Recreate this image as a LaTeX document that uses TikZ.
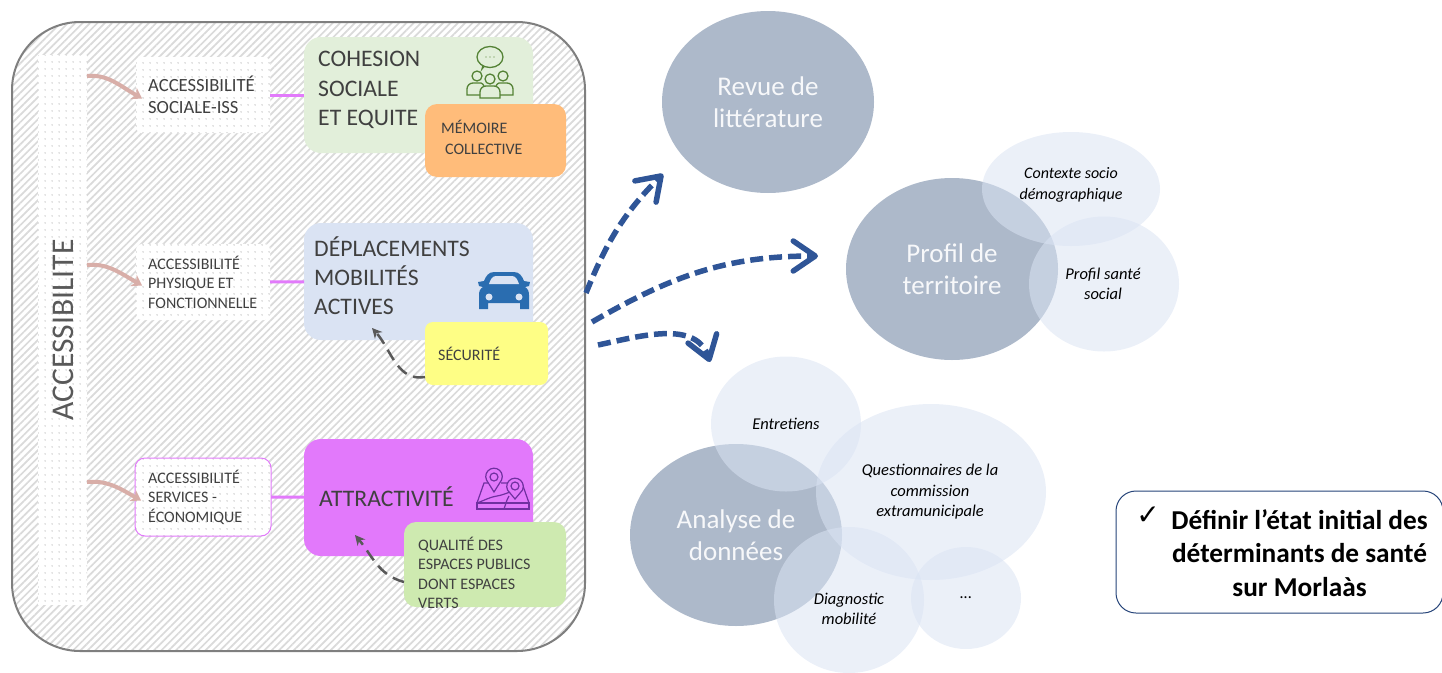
\documentclass[tikz,border=0pt]{standalone}
\usepackage{fontspec}
\setmainfont{Carlito}
\newfontfamily\checkfont{DejaVu Sans}
\usetikzlibrary{shapes.geometric,patterns.meta,arrows.meta}

\definecolor{framegray}{HTML}{7F7F7F}
\definecolor{hatchgray}{HTML}{DADADA}
\definecolor{dotgray}{HTML}{8C8C8C}
\definecolor{textgray}{HTML}{404040}
\definecolor{rosearrow}{HTML}{D8AEA8}
\definecolor{pinkline}{HTML}{E27AFB}
\definecolor{cohesiongreen}{HTML}{E2EFDA}
\definecolor{memoireorange}{HTML}{FFBC7A}
\definecolor{mobilityblue}{HTML}{DAE3F3}
\definecolor{securityyellow}{HTML}{FEFE85}
\definecolor{attractpink}{HTML}{E279FB}
\definecolor{qualitygreen}{HTML}{CEEAB0}
\definecolor{navyarrow}{HTML}{2F5597}
\definecolor{bigellipse}{HTML}{ADB9CA}
\definecolor{paleellipse}{HTML}{DAE3F3}
\definecolor{peoplegreen}{HTML}{548235}
\definecolor{carblue}{HTML}{2A6DB0}
\definecolor{mapviolet}{HTML}{7030A0}

\tikzset{
  dotbox/.style={rounded corners=6pt, inner sep=0pt, outer sep=0pt, preaction={fill=white},
    pattern={Dots[distance=6.5pt,radius=0.6pt]}, pattern color=dotgray},
  themebox/.style={rounded corners=17pt, inner sep=0pt, outer sep=0pt},
  smalltxt/.style={anchor=west, align=left, text=textgray, inner sep=0pt, font=\fontsize{16}{19.5}\selectfont},
  bigtxt/.style={anchor=west, align=left, text=textgray, inner sep=0pt, font=\fontsize{23.7}{29.3}\selectfont},
  bigball/.style={ellipse, fill=bigellipse, inner sep=0pt, outer sep=0pt, align=center,
    text=white!90!bigellipse, font=\fontsize{27}{32}\selectfont},
  paleball/.style={ellipse, fill=paleellipse, fill opacity=0.55, inner sep=0pt, outer sep=0pt},
  paletxt/.style={align=center, inner sep=0pt, font=\fontsize{16.5}{20.5}\selectfont\itshape},
  rosearr/.style={->,>={Stealth[length=10pt,width=13pt]}, line width=4pt, color=rosearrow, shorten >=-7pt},
  pinkconn/.style={line width=3pt, color=pinkline},
  grayarr/.style={->,>={Stealth[length=10pt,width=10pt]}, line width=2.5pt, color=black!65, dash pattern=on 12pt off 7pt},
  navyarr/.style={->,>={Straight Barb[length=22pt,width=30pt,round]}, line width=5.5pt, color=navyarrow, dash pattern=on 13pt off 6pt},
}

\begin{document}
\begin{tikzpicture}[x=1pt,y=1pt]
\useasboundingbox (0,0) rectangle (1442,-672);

% Frame with the hatching and the dotted band
\node (frame) [draw=framegray, line width=2pt, rounded corners=68pt, minimum width=573pt, minimum height=629pt,
  preaction={fill=white}, pattern={Lines[angle=45,distance=5.2pt,line width=1.7pt]}, pattern color=hatchgray] at (298.5,-336.5) {};
\node (band) [dotbox, rounded corners=0pt, minimum width=49pt, minimum height=550pt] at (62.5,-330) {};
\node (bandtxt) [rotate=90, text=black!65, inner sep=0pt, font=\fontsize{31.6}{31.6}\selectfont] at (63,-330) {ACCESSIBILITE};

% Accessibility boxes
\node (boxsocial) [dotbox, minimum width=134pt, minimum height=76pt] at (203,-95) {};
\node (boxphys) [dotbox, minimum width=134pt, minimum height=76pt] at (203,-282) {};
\node (boxserv) [dotbox, draw=pinkline, line width=1pt, rounded corners=10pt, minimum width=136pt, minimum height=78pt] at (203,-497) {};
\node (txtsocial) [smalltxt, font=\fontsize{18.6}{22}\selectfont] at (148,-95) {ACCESSIBILITÉ\\SOCIALE-ISS};
\node (txtphys) [smalltxt] at (148,-282) {ACCESSIBILITÉ\\PHYSIQUE ET\\FONCTIONNELLE};
\node (txtserv) [smalltxt] at (148,-497) {ACCESSIBILITÉ\\SERVICES -\\ÉCONOMIQUE};

% Theme boxes
\node (cohesion) [themebox, fill=cohesiongreen, minimum width=229pt, minimum height=116pt] at (418.5,-95) {};
\node (mobility) [themebox, fill=mobilityblue, minimum width=229pt, minimum height=117pt] at (418.5,-281.5) {};
\node (attract) [themebox, fill=attractpink, minimum width=229pt, minimum height=117pt] at (418.5,-497.5) {};
\node (txtcohesion) [bigtxt] at (318,-90) {COHESION\\SOCIALE\\ET EQUITE};
\node (txtmobility) [bigtxt] at (314,-275.5) {DÉPLACEMENTS\\MOBILITÉS\\ACTIVES};
\node (txtattract) [bigtxt] at (319,-497) {ATTRACTIVITÉ};

\draw [pinkconn] (boxsocial) -- (cohesion);
\draw [pinkconn] (boxphys) -- (mobility);
\draw [pinkconn] (boxserv) -- (attract);

% Small boxes on the themes
\node (memoire) [themebox, rounded corners=12pt, fill=memoireorange, minimum width=141pt, minimum height=73pt] at (495.5,-140.5) {};
\node (securite) [themebox, rounded corners=8pt, fill=securityyellow, minimum width=123pt, minimum height=63pt] at (486.5,-353.5) {};
\node (qualite) [themebox, rounded corners=12pt, fill=qualitygreen, minimum width=162pt, minimum height=85pt] at (485,-564.5) {};
\node (txtmemoire) [smalltxt] at (441,-127) {MÉMOIRE};
\node (txtcollective) [smalltxt] at (445,-149) {COLLECTIVE};
\node (txtsecurite) [smalltxt] at (438,-354) {SÉCURITÉ};
\node (txtqualite) [smalltxt] at (418,-573) {QUALITÉ DES\\ESPACES PUBLICS\\DONT ESPACES\\VERTS};

% Arrows leaving the band
\coordinate (rosea) at (87,-76);
\coordinate (roseb) at (87,-265);
\coordinate (rosec) at (87,-482);
\draw [rosearr] (rosea) to [out=5,in=150] (boxsocial.west);
\draw [rosearr] (roseb) to [out=5,in=150] (boxphys.west);
\draw [rosearr] (rosec) to [out=5,in=150] (boxserv.west);

% Dashed arrows towards the themes
\coordinate (secstart) at (425,-377);
\coordinate (secend) at (372,-328);
\coordinate (qualstart) at (404,-582);
\coordinate (qualend) at (355,-535);
\draw [grayarr] (secstart) to [out=190,in=-48] (secend);
\draw [grayarr] (qualstart) to [out=165,in=-50] (qualend);

% Speech bubble and people
\begin{scope} [shift={(490,-72)}, color=peoplegreen, line width=1.3pt]
\draw (-6,5.5) -- (-8,3) -- (-7,6.5);
\draw (0,15) ellipse (13 and 10.5);
\foreach \dotx in {-4,0,4} { \fill (\dotx,15) circle (0.6pt); }
\draw (-13,-4) circle (5pt) (13,-4) circle (5pt) (0,-7) circle (5pt);
\draw (-10,-23) -- (-23,-23) -- (-23,-17) to [out=90,in=180] (-17,-11) -- (-9,-11) to [out=0,in=135] (-6,-14);
\draw (10,-23) -- (23,-23) -- (23,-17) to [out=90,in=0] (17,-11) -- (9,-11) to [out=180,in=45] (6,-14);
\draw (-10,-26) -- (10,-26) -- (10,-20) to [out=90,in=0] (4,-14) -- (-4,-14) to [out=180,in=90] (-10,-20) -- cycle;
\end{scope}

% Car
\begin{scope} [shift={(504,-290)}]
\fill [color=carblue] (-26,8) -- (-20,9) to [out=70,in=180] (-10,18) -- (10,18) to [out=0,in=110] (20,9) -- (26,8) -- (25,4) -- (21,3)
  to [out=-30,in=90] (25,-5) -- (25,-19) -- (16,-19) -- (16,-13) -- (-16,-13) -- (-16,-19) -- (-25,-19) -- (-25,-5) to [out=90,in=210] (-21,3) -- (-25,4) -- cycle;
\fill [color=mobilityblue] (-15,6) to [out=70,in=180] (-8,14) -- (8,14) to [out=0,in=110] (15,6) -- cycle;
\fill [color=mobilityblue] (-15,-7) circle (3.5pt) (15,-7) circle (3.5pt);
\end{scope}

% Map with the two pins
\begin{scope} [color=mapviolet, line width=1.2pt]
\draw (477,-509) -- (529,-509) -- (529,-503) -- (477,-503) -- cycle;
\draw (477,-503) -- (484,-483) -- (488,-483);
\draw (501,-483) -- (508,-483) (522,-483) -- (529,-503);
\draw (477,-503) to [out=20,in=190] (497,-496) to [out=10,in=200] (510,-492);
\draw (504,-509) to [out=70,in=240] (509,-496);
\draw [fill=attractpink] (494,-492) -- (486.5,-480) arc (205:-25:8.3) -- cycle;
\draw (494,-477) circle (4pt);
\draw [fill=attractpink] (515,-499) -- (507.5,-490) arc (205:-25:8.3) -- cycle;
\draw (515,-486) circle (4pt);
\end{scope}

% Big dashed arrows
\coordinate (fromfirst) at (586,-293);
\coordinate (fromsecond) at (592,-322);
\coordinate (fromthird) at (598,-345);
\coordinate (torevue) at (663,-174);
\coordinate (toprofil) at (818,-256);
\coordinate (toanalyse) at (710,-362);
\draw [navyarr] (fromfirst) to [out=68,in=225] (torevue);
\draw [navyarr] (fromsecond) to [out=30,in=180] (toprofil);
\draw [navyarr] (fromthird) to [out=12,in=108] (toanalyse);

% Top ellipse
\node (revue) [bigball, minimum width=212pt, minimum height=182pt] at (768,-102) {Revue de\\littérature};

% Profile group
\node (profil) [bigball, minimum width=212pt, minimum height=182pt] at (952,-269) {Profil de\\territoire};
\node (contexte) [paleball, minimum width=178pt, minimum height=114pt] at (1071,-189) {};
\node (sante) [paleball, minimum width=150pt, minimum height=135pt] at (1104,-284) {};
\node (txtcontexte) [paletxt, font=\fontsize{16}{20.5}\selectfont\itshape] at (1071,-185) {Contexte socio\\démographique};
\node (txtsante) [paletxt] at (1103,-284) {Profil santé\\social};

% Data group
\node (analyse) [bigball, minimum width=212pt, minimum height=182pt] at (736,-535) {Analyse de\\données};
\node (entretiens) [paleball, minimum width=150pt, minimum height=135pt] at (786,-424) {};
\node (questions) [paleball, minimum width=230pt, minimum height=176pt] at (931,-492) {};
\node (diagnostic) [paleball, minimum width=150pt, minimum height=146pt] at (849,-600) {};
\node (autres) [paleball, minimum width=110pt, minimum height=102pt] at (966,-598) {};
\node (txtentretiens) [paletxt] at (786,-424) {Entretiens};
\node (txtquestions) [paletxt] at (930,-492) {Questionnaires de la\\commission\\extramunicipale};
\node (txtdiagnostic) [paletxt] at (849,-609) {Diagnostic\\mobilité};
\node (txtautres) [paletxt] at (966,-598) {...};

% Objective box
\node (objectif) [draw=navyarrow!80!black, line width=1pt, rounded corners=20pt, fill=white, minimum width=327pt, minimum height=122pt] at (1279.5,-552) {};
\node (coche) [inner sep=0pt, font=\checkfont\fontsize{28}{28}\selectfont] at (1148,-516) {✓};
\node (txtobjectif) [align=center, inner sep=0pt, font=\fontsize{27.3}{33.5}\selectfont\bfseries] at (1299.5,-553) {Définir l’état initial des\\déterminants de santé\\sur Morlaàs};

\end{tikzpicture}
\end{document}
